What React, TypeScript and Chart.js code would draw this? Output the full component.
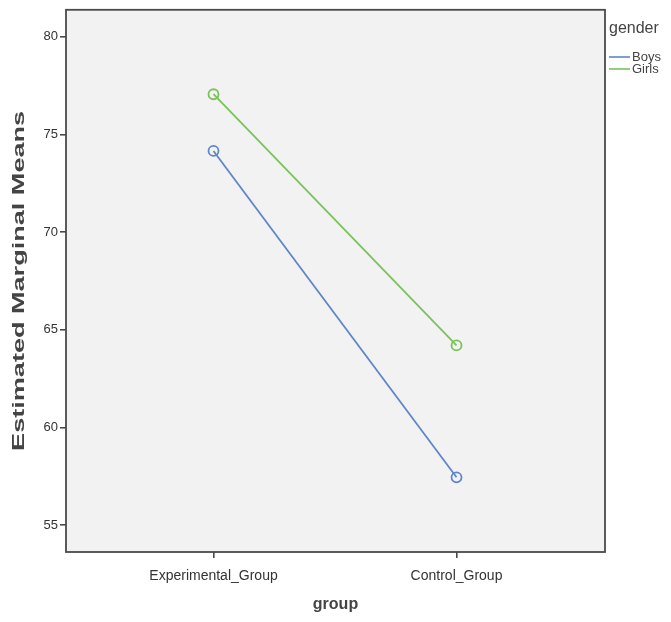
import React, { useEffect, useRef } from "react";
import { Chart, registerables } from "chart.js";

Chart.register(...registerables);

const categories = ["Experimental_Group", "Control_Group"];
const boysValues = [74.15, 57.45];
const girlsValues = [77.05, 64.2];
const yTicks = [55, 60, 65, 70, 75, 80];
const seriesNames = ["Boys", "Girls"];
const seriesColors = ["#5f86c9", "#79c35a"];
const legendTitle = "gender";
const yTitle = "Estimated Marginal Means";
const xTitle = "group";

const FONT = "'Liberation Sans', Arial, sans-serif";

const plotBg = {
  id: "plotBg",
  beforeDraw(chart: any) {
    const { ctx, chartArea: a } = chart;
    ctx.save();
    ctx.fillStyle = "#f2f2f2";
    ctx.fillRect(a.left, a.top, a.right - a.left, a.bottom - a.top);
    ctx.restore();
  },
  afterDraw(chart: any) {
    const { ctx, chartArea: a } = chart;
    ctx.save();
    ctx.strokeStyle = "#4a4a4a";
    ctx.lineWidth = 1.8;
    ctx.strokeRect(a.left, a.top, a.right - a.left, a.bottom - a.top);

    // y title (rotated, glyphs stretched along the text like the reference)
    ctx.save();
    ctx.translate(19, (a.top + a.bottom) / 2);
    ctx.rotate(-Math.PI / 2);
    ctx.font = `bold 17px ${FONT}`;
    ctx.fillStyle = "#444444";
    ctx.textAlign = "center";
    ctx.textBaseline = "middle";
    const target = 340;
    const w0 = ctx.measureText(yTitle).width;
    ctx.scale(target / w0, 1);
    ctx.fillText(yTitle, 0, 0);
    ctx.restore();

    // legend
    ctx.fillStyle = "#444444";
    ctx.font = `16px ${FONT}`;
    ctx.textBaseline = "middle";
    ctx.textAlign = "left";
    ctx.fillText(legendTitle, a.right + 4, 29);
    ctx.font = `13px ${FONT}`;
    seriesNames.forEach((n, i) => {
      const y = 57 + i * 12;
      ctx.strokeStyle = seriesColors[i];
      ctx.lineWidth = 1.6;
      ctx.beginPath();
      ctx.moveTo(a.right + 4, y);
      ctx.lineTo(a.right + 25, y);
      ctx.stroke();
      ctx.fillStyle = "#444444";
      ctx.fillText(n, a.right + 27, y);
    });
    ctx.restore();
  },
};

export default function App() {
  const ref = useRef<HTMLCanvasElement | null>(null);
  useEffect(() => {
    document.body.style.margin = "0";
    const ctx = ref.current!;
    const mk = (vals: number[]) => vals.map((v, i) => ({ x: i, y: v }));
    const ds = (i: number, vals: number[]) => ({
      label: seriesNames[i],
      data: mk(vals),
      borderColor: seriesColors[i],
      backgroundColor: "rgba(0,0,0,0)",
      borderWidth: 1.8,
      pointRadius: 5,
      pointBorderWidth: 1.8,
      pointBackgroundColor: "rgba(0,0,0,0)",
      pointBorderColor: seriesColors[i],
    });
    const chart = new Chart(ctx, {
      type: "line",
      data: { datasets: [ds(0, boysValues), ds(1, girlsValues)] },
      options: {
        animation: false,
        responsive: false,
        maintainAspectRatio: false,
        layout: { padding: { top: 5, right: 66, left: 0, bottom: 0 } },
        plugins: { legend: { display: false }, tooltip: { enabled: false } },
        scales: {
          x: {
            type: "linear",
            min: -0.607,
            max: 1.611,
            afterBuildTicks: (axis: any) => {
              axis.ticks = categories.map((_, i) => ({ value: i }));
            },
            afterFit: (axis: any) => {
              axis.height = 70;
            },
            ticks: {
              callback: (v: any) => categories[v] ?? "",
              font: { family: FONT, size: 14 },
              color: "#333333",
              padding: 10,
              maxRotation: 0,
              autoSkip: false,
            },
            grid: {
              display: true,
              drawOnChartArea: false,
              drawTicks: true,
              tickLength: 6,
              color: "#4a4a4a",
              lineWidth: 1.6,
            },
            border: { display: false },
            title: {
              display: true,
              text: xTitle,
              font: { family: FONT, size: 16, weight: "bold" },
              color: "#444444",
              padding: 8,
            },
          },
          y: {
            type: "linear",
            min: 53.63,
            max: 81.37,
            afterBuildTicks: (axis: any) => {
              axis.ticks = yTicks.map((v) => ({ value: v }));
            },
            afterFit: (axis: any) => {
              axis.width = 66;
            },
            ticks: {
              font: { family: FONT, size: 13 },
              color: "#333333",
              padding: 2,
            },
            grid: {
              display: true,
              drawOnChartArea: false,
              drawTicks: true,
              tickLength: 6,
              color: "#4a4a4a",
              lineWidth: 1.6,
            },
            border: { display: false },
            title: { display: false },
          },
        },
      },
      plugins: [plotBg],
    });
    return () => chart.destroy();
  }, []);
  return (
    <div style={{ position: "relative", width: 671, height: 622 }}>
      <canvas ref={ref} width={671} height={622} style={{ display: "block" }} />
    </div>
  );
}
